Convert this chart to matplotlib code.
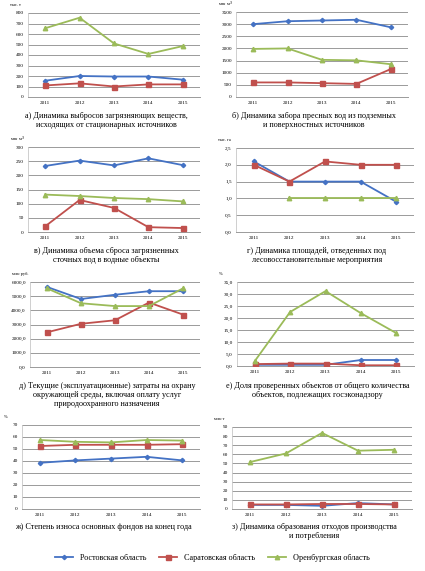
import matplotlib.pyplot as plt
import numpy as np

W, H = 425, 571

years = ['2011', '2012', '2013', '2014', '2015']
regions = ['Ростовская область', 'Саратовская область', 'Оренбургская область']

# а) выбросы, тыс. т
a_rost = [155, 200, 195, 195, 165]
a_sar = [110, 130, 100, 120, 120]
a_oren = [655, 755, 510, 410, 485]
# б) забор пресных вод, млн м3
b_rost = [3000, 3120, 3150, 3180, 2870]
b_sar = [600, 600, 570, 540, 1150]
b_oren = [1980, 2000, 1530, 1510, 1350]
# в) сброс сточных вод, млн м3
c_rost = [233, 252, 235, 260, 236]
c_sar = [20, 113, 85, 17, 14]
c_oren = [132, 127, 120, 116, 108]
# г) площади, тыс. га
d_rost = [2.1, 1.5, 1.5, 1.5, 0.9]
d_sar = [2.0, 1.5, 2.1, 2.0, 2.0]
d_oren = [np.nan, 1.0, 1.0, 1.0, 1.0]
# д) затраты, млн руб.
e_rost = [5650, 4800, 5100, 5350, 5350]
e_sar = [2450, 3050, 3300, 4550, 3700]
e_oren = [5550, 4500, 4300, 4300, 5550]
# е) доля проверенных объектов, %
f_rost = [0.5, 0.5, 0.5, 2.5, 2.5]
f_sar = [0.8, 1.0, 1.0, 0.3, 0.3]
f_oren = [2.0, 22.5, 31.2, 22.0, 13.7]
# ж) степень износа, %
g_rost = [38.5, 40.5, 42, 43.5, 40.5]
g_sar = [52.5, 53.5, 53.5, 53.5, 54]
g_oren = [57.5, 56, 55.5, 57.5, 57]
# з) отходы, млн т
h_rost = [4.5, 4.5, 3.5, 6.5, 5]
h_sar = [5, 5, 5.5, 5.5, 5]
h_oren = [51.5, 61, 83.5, 64, 65]

colors = ['#4472C4', '#C0504D', '#9BBB59']
markers = ['D', 's', '^']
msizes = [2.2, 3.6, 3.2]

serif = 'Liberation Serif'


def panel(fig, box, series, ymax, step, fmt, unit, caption, cap_y):
    # box = (left, top, right, bottom) in pixels
    l, t, r, b = box
    ax = fig.add_axes([l / W, 1 - b / H, (r - l) / W, (b - t) / H])
    x = np.arange(len(years))
    for i, s in enumerate(series):
        ax.plot(x, s, color=colors[i], marker=markers[i], markersize=msizes[i],
                linewidth=1.3, label=regions[i], zorder=3)
    ax.set_xlim(-0.5, 4.5)
    ax.set_ylim(0, ymax)
    ticks = np.arange(0, ymax + step / 2, step)
    ax.set_yticks(ticks)
    ax.set_yticklabels([fmt(v) for v in ticks], fontsize=3.8, family=serif)
    ax.set_xticks(x)
    ax.set_xticklabels(years, fontsize=3.8, family=serif)
    ax.tick_params(length=0, pad=3)
    ax.grid(axis='y', color='#9a9a9a', linewidth=0.7)
    ax.set_axisbelow(True)
    for side in ['top', 'right']:
        ax.spines[side].set_visible(False)
    ax.spines['left'].set_color('#c8c8c8')
    ax.spines['bottom'].set_color('#9a9a9a')
    ax.spines['left'].set_linewidth(0.6)
    ax.spines['bottom'].set_linewidth(0.7)
    fig.text((l - 18) / W, 1 - (t - 8) / H, unit, fontsize=3.2, family=serif,
             ha='left', va='center')
    cx = (l + r) / 2 - 8
    fig.text(cx / W, 1 - cap_y / H, caption, fontsize=5.9, family=serif,
             ha='center', va='top', linespacing=1.15)
    return ax


def intf(v):
    return '%d' % v


def comma1(v):
    return ('%.1f' % v).replace('.', ',')


fig = plt.figure(figsize=(W / 100, H / 100), dpi=100, facecolor='white')

ax = panel(fig, (28, 13, 200, 97), [a_rost, a_sar, a_oren], 800, 100, intf, 'тыс. т',
           'а) Динамика выбросов загрязняющих веществ,\nисходящих от стационарных источников', 112)
panel(fig, (236, 12, 408, 97), [b_rost, b_sar, b_oren], 3500, 500, intf, 'млн м$^3$',
      'б) Динамика забора пресных вод из подземных\nи поверхностных источников', 112)
panel(fig, (28, 147, 200, 232), [c_rost, c_sar, c_oren], 300, 50, intf, 'млн м$^3$',
      'в) Динамика объема сброса загрязненных\nсточных вод в водные объекты', 247)
panel(fig, (236, 148, 414, 232), [d_rost, d_sar, d_oren], 2.5, 0.5, comma1, 'тыс. га',
      'г) Динамика площадей, отведенных под\nлесовосстановительные мероприятия', 247)
panel(fig, (30, 282, 200, 367), [e_rost, e_sar, e_oren], 6000, 1000, comma1, 'млн руб.',
      'д) Текущие (эксплуатационные) затраты на охрану\nокружающей среды, включая оплату услуг\nприродоохранного назначения', 382)
panel(fig, (237, 282, 414, 366), [f_rost, f_sar, f_oren], 35, 5, comma1, '%',
      'е) Доля проверенных объектов от общего количества\nобъектов, подлежащих госэконадзору', 382)
panel(fig, (22, 425, 200, 509), [g_rost, g_sar, g_oren], 70, 10, intf, '%',
      'ж) Степень износа основных фондов на конец года', 523)
panel(fig, (232, 427, 412, 509), [h_rost, h_sar, h_oren], 90, 10, intf, 'млн т',
      'з) Динамика образования отходов производства\nи потребления', 523)

handles, labels = ax.get_legend_handles_labels()
fig.legend(handles, labels, loc='center', bbox_to_anchor=(0.5, 1 - 558 / H), ncol=3,
           frameon=False, prop={'family': serif, 'size': 5.9}, handlelength=2.2,
           columnspacing=1.6, handletextpad=0.8)

plt.savefig('out.png', dpi=100, facecolor='white')
